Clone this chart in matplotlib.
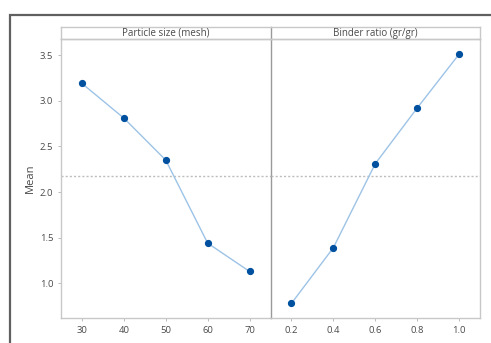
import matplotlib
matplotlib.use("Agg")
import matplotlib.pyplot as plt
from matplotlib.patches import Rectangle

# main effects data
particle_size = [30, 40, 50, 60, 70]
particle_mean = [3.19, 2.81, 2.35, 1.44, 1.13]
binder_ratio = [0.2, 0.4, 0.6, 0.8, 1.0]
binder_mean = [0.78, 1.39, 2.31, 2.92, 3.51]
grand_mean = 2.18

panel_titles = ["Particle size (mesh)", "Binder ratio (gr/gr)"]
y_ticks = [1.0, 1.5, 2.0, 2.5, 3.0, 3.5]

plt.rcParams['font.family'] = ['Open Sans', 'DejaVu Sans']

W, H = 491, 343
fig = plt.figure(figsize=(W / 100, H / 100), dpi=100)

# outer frame (cropped screenshot border)
fig.patches.append(Rectangle((9.5 / W, -0.2), 1.5, 1 - 15 / H + 0.2, transform=fig.transFigure,
                             fill=False, edgecolor='#606060', linewidth=1.6))

left, right = 61 / W, 480 / W
bottom, top = 1 - 318 / H, 1 - 38.7 / H
strip_h = 11.7 / H
pw = (right - left) / 2

line_col = '#9dc3e6'
mark_col = '#0050a0'
spine_col = '#c8c8c8'
div_col = '#9a9a9a'
txt_col = '#4a4a4a'

panels = [(particle_size, particle_mean, (25, 75), [30, 40, 50, 60, 70], ['30', '40', '50', '60', '70']),
          (binder_ratio, binder_mean, (0.1, 1.1), binder_ratio, ['0.2', '0.4', '0.6', '0.8', '1.0'])]

for i, (xs, ys, xl, xt, xtl) in enumerate(panels):
    ax = fig.add_axes([left + i * pw, bottom, pw, top - bottom])
    ax.patch.set_alpha(0)
    ax.plot(xs, ys, color=line_col, linewidth=1.0, zorder=2)
    ax.plot(xs, ys, 'o', color=mark_col, markersize=4.2, zorder=3)
    ax.axhline(grand_mean, color='#bdbdbd', linestyle=(0, (1.5, 1.5)), linewidth=1.0, zorder=1)
    ax.set_xlim(*xl)
    ax.set_ylim(0.62, 3.68)
    ax.set_xticks(xt)
    ax.set_xticklabels(xtl)
    ax.set_yticks(y_ticks)
    ax.tick_params(labelsize=6.8, colors=txt_col, length=2, width=0.6)
    ax.tick_params(color='#b0b0b0')
    for s in ax.spines.values():
        s.set_color(spine_col)
        s.set_linewidth(1.0)
    if i == 0:
        ax.set_yticklabels(['1.0', '1.5', '2.0', '2.5', '3.0', '3.5'])
        ax.set_ylabel('Mean', fontsize=8, color=txt_col, labelpad=3)
        ax.spines['right'].set_color(div_col)
        ax.spines['right'].set_zorder(5)
    else:
        ax.tick_params(axis='y', left=False, labelleft=False)
        ax.spines['left'].set_visible(False)

    # strip header
    sax = fig.add_axes([left + i * pw, top, pw, strip_h])
    sax.patch.set_alpha(0)
    sax.set_xticks([])
    sax.set_yticks([])
    for s in sax.spines.values():
        s.set_color(spine_col)
        s.set_linewidth(1.0)
    if i == 0:
        sax.spines['right'].set_color(div_col)
    else:
        sax.spines['left'].set_visible(False)
    sax.text(0.5, 0.45, panel_titles[i], ha='center', va='center', fontsize=7,
             color=txt_col, transform=sax.transAxes)

fig.savefig('out.png', dpi=100)
